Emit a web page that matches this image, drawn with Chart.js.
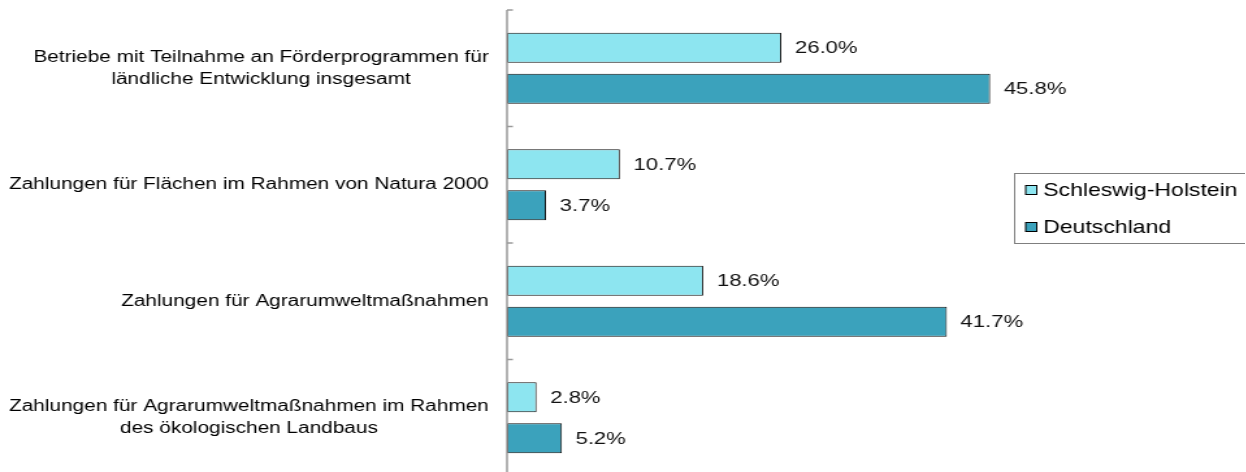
<!DOCTYPE html>
<html>
<head>
<meta charset="utf-8">
<script src="https://cdn.jsdelivr.net/npm/chart.js@4/dist/chart.umd.min.js"></script>
<style>
  html, body { margin: 0; padding: 0; background: #fff; overflow: hidden; }
  #wrap { position: absolute; left: 0; top: 0; width: 958px; height: 480px;
          transform: scaleX(1.3); transform-origin: 0 0; }
</style>
</head>
<body>
<div id="wrap"><canvas id="chart" width="958" height="480"></canvas></div>
<script>
// categories (each one a list of lines)
const categories = [
  ["Betriebe mit Teilnahme an Förderprogrammen für", "ländliche Entwicklung insgesamt"],
  ["Zahlungen für Flächen im Rahmen von Natura 2000"],
  ["Zahlungen für Agrarumweltmaßnahmen"],
  ["Zahlungen für Agrarumweltmaßnahmen im Rahmen", "des ökologischen Landbaus"]
];
const seriesNames = ["Schleswig-Holstein", "Deutschland"];
const schleswigHolstein = [26.0, 10.7, 18.6, 2.8];
const deutschland = [45.8, 3.7, 41.7, 5.2];

const FONT = '"Liberation Sans", Arial, sans-serif';

// labels, axis, value labels and legend drawn on top
const drawExtras = {
  id: 'drawExtras',
  afterDraw(chart) {
    const ctx = chart.ctx;
    const yScale = chart.scales.y;
    const area = chart.chartArea;
    ctx.save();

    // axis line with small inside ticks
    ctx.strokeStyle = '#9a9a9a';
    ctx.lineWidth = 1.5;
    ctx.beginPath();
    ctx.moveTo(area.left, area.top);
    ctx.lineTo(area.left, area.bottom);
    const step = (area.bottom - area.top) / categories.length;
    for (let i = 0; i < categories.length; i++) {
      const yy = yScale.getPixelForValue(i) - step / 2;
      ctx.moveTo(area.left, yy);
      ctx.lineTo(area.left + 4.5, yy);
    }
    ctx.stroke();

    // category labels: block right aligned, lines centered
    ctx.font = '16px ' + FONT;
    ctx.fillStyle = '#000';
    ctx.textBaseline = 'middle';
    ctx.textAlign = 'center';
    const lineH = 22;
    const rightEdge = area.left - 14;
    categories.forEach((lines, i) => {
      const cy = yScale.getPixelForValue(i);
      const w = Math.max(...lines.map(l => ctx.measureText(l).width));
      const cx = rightEdge - w / 2;
      const y0 = cy - (lines.length - 1) * lineH / 2;
      lines.forEach((l, j) => ctx.fillText(l, cx, y0 + j * lineH));
    });

    // value labels
    ctx.font = '17px ' + FONT;
    ctx.fillStyle = '#111';
    ctx.textAlign = 'left';
    chart.data.datasets.forEach((ds, di) => {
      chart.getDatasetMeta(di).data.forEach((bar, i) => {
        ctx.fillText(ds.data[i].toFixed(1) + '%', bar.x + 10.5, bar.y + 1);
      });
    });

    // legend box
    const lx = 780, ly = 173, lw = 200, lh = 70;
    ctx.fillStyle = '#fff';
    ctx.fillRect(lx, ly, lw, lh);
    ctx.strokeStyle = '#7f7f7f';
    ctx.lineWidth = 1;
    ctx.strokeRect(lx + 0.5, ly + 0.5, lw, lh);
    ctx.font = '17.7px ' + FONT;
    chart.data.datasets.forEach((ds, di) => {
      const iy = 190 + di * 37;
      ctx.fillStyle = ds.backgroundColor;
      ctx.fillRect(789, iy - 4.5, 8.5, 9);
      ctx.strokeStyle = '#000';
      ctx.strokeRect(789, iy - 4.5, 8.5, 9);
      ctx.fillStyle = '#000';
      ctx.fillText(ds.label, 802.5, iy + 1);
    });

    ctx.restore();
  }
};

new Chart(document.getElementById('chart'), {
  type: 'bar',
  data: {
    labels: categories,
    datasets: [
      {
        label: seriesNames[0],
        data: schleswigHolstein,
        backgroundColor: '#8de5f0',
        borderColor: '#111',
        borderWidth: 1,
        borderSkipped: false
      },
      {
        label: seriesNames[1],
        data: deutschland,
        backgroundColor: '#3ba2bc',
        borderColor: '#111',
        borderWidth: 1,
        borderSkipped: false
      }
    ]
  },
  options: {
    indexAxis: 'y',
    responsive: false,
    animation: false,
    devicePixelRatio: 1,
    layout: { padding: { top: 10, bottom: 4, left: 0, right: 0 } },
    categoryPercentage: 0.704,
    barPercentage: 0.732,
    plugins: {
      legend: { display: false },
      tooltip: { enabled: false }
    },
    scales: {
      x: { display: false, min: 0, max: 70 },
      y: {
        grid: { display: false },
        border: { display: false },
        ticks: { display: false },
        afterFit(scale) { scale.width = 390; }
      }
    }
  },
  plugins: [drawExtras]
});
</script>
</body>
</html>
